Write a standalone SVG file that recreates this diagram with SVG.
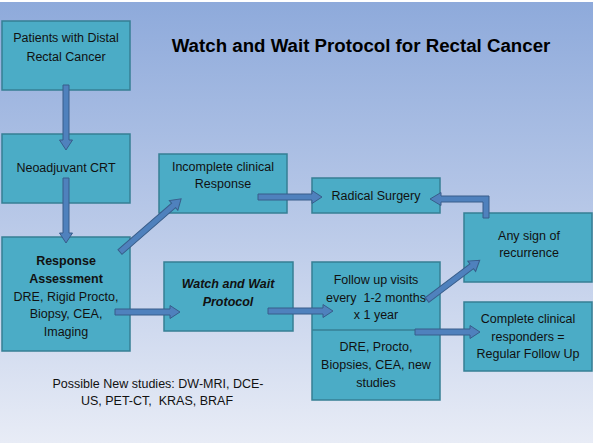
<svg xmlns="http://www.w3.org/2000/svg" width="596" height="447" viewBox="0 0 596 447">
<defs>
<linearGradient id="bg" x1="0" y1="0" x2="0" y2="1">
<stop offset="0" stop-color="#8eaadb"/>
<stop offset="0.5" stop-color="#b9c9e8"/>
<stop offset="1" stop-color="#e8ecf6"/>
</linearGradient>
</defs>
<style>
.box{fill:#4bacc6;stroke:#367f94;stroke-width:1.5}
.t{font-family:"Liberation Sans",Arial,sans-serif;font-size:12.5px;fill:#111;text-anchor:middle;white-space:pre}
.b{font-weight:bold}
.bi{font-weight:bold;font-style:italic}
.a{fill:#4f81bd;stroke:#385d8a;stroke-width:1}
.title{font-family:"Liberation Sans",Arial,sans-serif;font-size:18.7px;font-weight:bold;fill:#000;text-anchor:middle}
</style>
<rect x="0" y="0" width="596" height="447" fill="#ffffff"/>
<rect x="0" y="2" width="593" height="441" fill="url(#bg)"/>
<text class="title" x="361" y="52">Watch and Wait Protocol for Rectal Cancer</text>

<g id="n1"><rect class="box" x="2" y="21" width="128" height="69"/>
<text class="t" x="66" y="42">Patients with Distal</text><text class="t" x="66" y="61">Rectal Cancer</text></g>
<g id="n2"><rect class="box" x="2" y="134" width="128" height="69"/>
<text class="t" x="66" y="172">Neoadjuvant CRT</text></g>
<g id="n3"><rect class="box" x="2" y="237" width="128" height="114"/>
<text class="t b" x="66" y="265">Response</text><text class="t b" x="66" y="283">Assessment</text>
<text class="t" x="66" y="301">DRE, Rigid Procto,</text><text class="t" x="66" y="318">Biopsy, CEA,</text><text class="t" x="66" y="336">Imaging</text></g>
<g id="n4"><rect class="box" x="159" y="154" width="128" height="59"/>
<text class="t" x="223" y="171">Incomplete clinical</text><text class="t" x="223" y="188">Response</text></g>
<g id="n5"><rect class="box" x="312" y="178" width="128" height="35"/>
<text class="t" x="376" y="200">Radical Surgery</text></g>
<g id="n6"><rect class="box" x="464" y="213" width="128" height="69"/>
<text class="t" x="529" y="240">Any sign of</text><text class="t" x="529" y="257">recurrence</text></g>
<g id="n7"><rect class="box" x="164" y="262" width="129" height="69"/>
<text class="t bi" x="228" y="288">Watch and Wait</text><text class="t bi" x="228" y="306">Protocol</text></g>
<g id="n8"><rect class="box" x="312" y="262" width="128" height="138"/>
<line x1="312" y1="330" x2="440" y2="330" stroke="#367f94" stroke-width="1.5"/>
<text class="t" x="376" y="284">Follow up visits</text><text class="t" x="376" y="302">every  1-2 months</text><text class="t" x="376" y="319">x 1 year</text>
<text class="t" x="376" y="351">DRE, Procto,</text><text class="t" x="376" y="369">Biopsies, CEA, new</text><text class="t" x="376" y="387">studies</text></g>
<g id="n9"><rect class="box" x="464" y="302" width="128" height="69"/>
<text class="t" x="528" y="323">Complete clinical</text><text class="t" x="528" y="341">responders =</text><text class="t" x="528" y="358">Regular Follow Up</text></g>
<g id="note"><text class="t" x="158" y="388">Possible New studies: DW-MRI, DCE-</text><text class="t" x="157" y="405">US, PET-CT,  KRAS, BRAF</text></g>

<g id="connectors">
<polygon class="a" transform="translate(66,85) rotate(90)" points="0,-3 55,-3 55,-6.5 65,0 55,6.5 55,3 0,3"/>
<polygon class="a" transform="translate(66,178) rotate(90)" points="0,-3 55,-3 55,-6.5 65,0 55,6.5 55,3 0,3"/>
<polygon class="a" transform="translate(120,252) rotate(-41)" points="0,-3 71,-3 71,-6.5 81,0 71,6.5 71,3 0,3"/>
<polygon class="a" transform="translate(258,197)" points="0,-3 54,-3 54,-6.5 64,0 54,6.5 54,3 0,3"/>
<polygon class="a" points="483,218 483,202 441,202 441,205.5 430,199 441,192.5 441,196 489,196 489,218"/>
<polygon class="a" transform="translate(115,312)" points="0,-3 55,-3 55,-6.5 65,0 55,6.5 55,3 0,3"/>
<polygon class="a" transform="translate(268,311)" points="0,-3 55,-3 55,-6.5 65,0 55,6.5 55,3 0,3"/>
<polygon class="a" transform="translate(427,300) rotate(-37)" points="0,-3 56,-3 56,-6.5 66,0 56,6.5 56,3 0,3"/>
<polygon class="a" transform="translate(415,332)" points="0,-3 55,-3 55,-6.5 65,0 55,6.5 55,3 0,3"/>
</g>
</svg>
